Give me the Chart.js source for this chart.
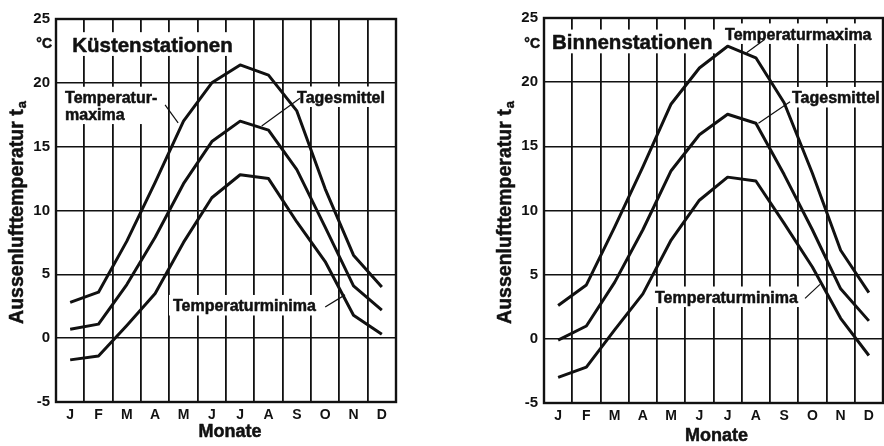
<!DOCTYPE html>
<html>
<head>
<meta charset="utf-8">
<title>Aussenlufttemperatur</title>
<script src="https://cdn.jsdelivr.net/npm/chart.js@4"></script>
<style>
  body { margin: 0; background: #fff; }
  #wrap { position: relative; width: 884px; height: 446px; }
  canvas { position: absolute; top: 0; }
  #coast { left: 0; }
  #inland { left: 488px; }
</style>
</head>
<body>
<div id="wrap">
  <canvas id="coast" width="420" height="446"></canvas>
  <canvas id="inland" width="396" height="446"></canvas>
</div>
<script>
// Monthly air temperatures in °C
const months = ['J', 'F', 'M', 'A', 'M', 'J', 'J', 'A', 'S', 'O', 'N', 'D'];

const coastMax  = [2.8, 3.6, 7.6, 12.2, 17.0, 20.0, 21.4, 20.6, 17.8, 11.7, 6.5, 4.0];
const coastMean = [0.7, 1.1, 4.2, 7.9, 12.1, 15.4, 17.0, 16.3, 13.2, 8.7, 4.1, 2.2];
const coastMin  = [-1.7, -1.4, 1.0, 3.5, 7.5, 11.0, 12.8, 12.5, 9.1, 6.0, 1.8, 0.3];

const inlandMax  = [2.6, 4.2, 8.7, 13.4, 18.3, 21.1, 22.8, 21.9, 18.4, 12.9, 6.9, 3.6];
const inlandMean = [-0.1, 1.0, 4.4, 8.5, 13.1, 15.9, 17.5, 16.8, 12.8, 8.5, 3.9, 1.4];
const inlandMin  = [-3.0, -2.2, 0.7, 3.5, 7.7, 10.8, 12.6, 12.3, 9.0, 5.6, 1.6, -1.3];

const tempLow = -5;
const tempHigh = 25;
const tempStep = 5;

const FONT = '"Liberation Sans", Arial, Helvetica, sans-serif';
const INK = '#111';

// bold text with a thin outline so it reads as heavy as the scale labels
function heavyText(ctx, text, x, y) {
  ctx.fillText(text, x, y);
  ctx.strokeText(text, x, y);
}

// headings, curve labels and their leader lines, placed in (month index, °C)
function panelText(p) {
  return {
    id: 'panelText',
    beforeDatasetsDraw(chart) {
      const { ctx, scales: { x, y } } = chart;
      ctx.save();
      ctx.textAlign = 'left';
      ctx.textBaseline = 'alphabetic';
      ctx.lineJoin = 'round';
      p.notes.forEach(n => {
        ctx.font = `bold ${n.size}px ${FONT}`;
        const lh = n.size * 1.05;
        const left = x.getPixelForValue(n.at[0]);
        const base = y.getPixelForValue(n.at[1]);
        const w = Math.max(...n.lines.map(t => ctx.measureText(t).width));
        const top = base - n.size * 0.72 - 5;
        const bottom = base + (n.lines.length - 1) * lh + 4;
        ctx.fillStyle = '#fff';
        ctx.fillRect(left - 4, top, w + 8, bottom - top);
        ctx.fillStyle = INK;
        ctx.strokeStyle = INK;
        ctx.lineWidth = 0.5;
        n.lines.forEach((t, i) => heavyText(ctx, t, left, base + i * lh));
        if (n.leader) {
          ctx.lineWidth = 1.2;
          ctx.beginPath();
          ctx.moveTo(x.getPixelForValue(n.leader[0]), y.getPixelForValue(n.leader[1]));
          ctx.lineTo(x.getPixelForValue(n.leader[2]), y.getPixelForValue(n.leader[3]));
          ctx.stroke();
        }
      });
      ctx.restore();
    },
    afterDraw(chart) {
      const { ctx, chartArea: a, scales: { y } } = chart;
      ctx.save();
      // frame
      ctx.strokeStyle = INK;
      ctx.lineWidth = 2.4;
      ctx.strokeRect(a.left, a.top, a.right - a.left, a.bottom - a.top);

      ctx.fillStyle = INK;
      ctx.lineWidth = 0.5;
      ctx.lineJoin = 'round';
      // unit
      ctx.font = `bold 14px ${FONT}`;
      ctx.textAlign = 'right';
      ctx.textBaseline = 'middle';
      heavyText(ctx, '°C', a.left - 4, y.getPixelForValue(23.0));

      // x axis title
      ctx.font = `bold 18px ${FONT}`;
      ctx.textAlign = 'center';
      heavyText(ctx, 'Monate', (a.left + a.right) / 2 + p.monateDx, a.bottom + p.monateDy);

      // y axis title with subscript
      ctx.translate(a.left - 38.5, (a.top + a.bottom) / 2 + 2);
      ctx.rotate(-Math.PI / 2);
      const main = 'Aussenlufttemperatur t';
      ctx.font = `bold 19.5px ${FONT}`;
      const w1 = ctx.measureText(main).width;
      ctx.font = `bold 13px ${FONT}`;
      const w2 = ctx.measureText('a').width;
      const start = -(w1 + w2 + 1) / 2;
      ctx.textAlign = 'left';
      ctx.font = `bold 19.5px ${FONT}`;
      heavyText(ctx, main, start, 0);
      ctx.font = `bold 13px ${FONT}`;
      heavyText(ctx, 'a', start + w1 + 1, 5);
      ctx.restore();
    }
  };
}

function makePanel(p) {
  const line = data => ({
    data: data,
    borderColor: INK,
    borderWidth: 3,
    borderJoinStyle: 'round',
    pointRadius: 0,
    tension: 0,
    fill: false
  });
  return new Chart(document.getElementById(p.canvas), {
    type: 'line',
    data: {
      labels: months,
      datasets: [line(p.max), line(p.mean), line(p.min)]
    },
    options: {
      responsive: false,
      animation: false,
      layout: { padding: { left: 0, right: p.padRight, top: p.padTop, bottom: 0 } },
      plugins: { legend: { display: false }, tooltip: { enabled: false } },
      scales: {
        x: {
          offset: true,
          grid: { offset: true, color: INK, lineWidth: 1.8, drawTicks: false },
          border: { display: false },
          ticks: { color: INK, padding: 5, font: { family: FONT, size: 14, weight: 'bold' } },
          afterFit: s => { s.height = p.xHeight; }
        },
        y: {
          min: tempLow,
          max: tempHigh,
          grid: { color: INK, lineWidth: 1.5, drawTicks: false },
          border: { display: false },
          ticks: { stepSize: tempStep, color: INK, padding: 6, font: { family: FONT, size: 15, weight: 'bold' } },
          afterFit: s => { s.width = 56; }
        }
      }
    },
    plugins: [panelText(p)]
  });
}

makePanel({
  canvas: 'coast',
  max: coastMax, mean: coastMean, min: coastMin,
  padRight: 24, padTop: 19, xHeight: 44,
  monateDx: 4, monateDy: 30.5,
  notes: [
    { lines: ['Küstenstationen'], size: 20.5, at: [0.07, 22.42] },
    { lines: ['Temperatur-', 'maxima'], size: 16, at: [-0.18, 18.4], leader: [3.35, 18.27, 3.81, 16.86] },
    { lines: ['Tagesmittel'], size: 16, at: [8.01, 18.42], leader: [8.11, 18.79, 6.76, 16.62] },
    { lines: ['Temperaturminima'], size: 16, at: [3.63, 2.09], leader: [9.0, 2.45, 9.7, 3.39] }
  ]
});

makePanel({
  canvas: 'inland',
  max: inlandMax, mean: inlandMean, min: inlandMin,
  padRight: 1, padTop: 18, xHeight: 43,
  monateDx: 3, monateDy: 33.5,
  notes: [
    { lines: ['Binnenstationen'], size: 20.5, at: [-0.22, 22.56] },
    { lines: ['Temperaturmaxima'], size: 16, at: [5.91, 23.29], leader: [7.32, 23.34, 6.67, 22.3] },
    { lines: ['Tagesmittel'], size: 16, at: [8.28, 18.34], leader: [8.21, 18.48, 7.09, 16.79] },
    { lines: ['Temperaturminima'], size: 16, at: [3.43, 2.79], leader: [8.74, 3.15, 9.27, 4.24] }
  ]
});
</script>
</body>
</html>
